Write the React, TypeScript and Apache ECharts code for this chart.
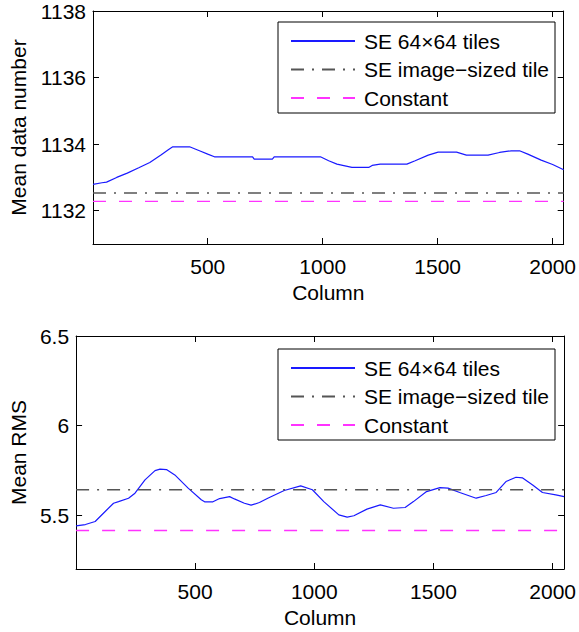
import React, { useEffect, useRef } from "react";
import * as echarts from "echarts";

// ---- Data ----
const seriesNames = ["SE 64×64 tiles", "SE image−sized tile", "Constant"];

const colRange = [1, 2048];
const xTicks = [500, 1000, 1500, 2000];

// Top panel: mean data number
const topYTicks = [1132, 1134, 1136, 1138];
const topYRange = [1131, 1138];
const topTiles: [number, number][] = [
  [1, 1132.79], [40, 1132.84], [60, 1132.86], [104, 1133.0], [150, 1133.13],
  [200, 1133.29], [248, 1133.45], [298, 1133.68], [330, 1133.84], [348, 1133.92],
  [421, 1133.92], [464, 1133.8], [500, 1133.7], [529, 1133.62], [695, 1133.62],
  [702, 1133.55], [781, 1133.55], [789, 1133.62], [990, 1133.62], [1026, 1133.5],
  [1062, 1133.4], [1127, 1133.3], [1200, 1133.3], [1215, 1133.36], [1250, 1133.4],
  [1366, 1133.4], [1402, 1133.5], [1459, 1133.67], [1502, 1133.76], [1582, 1133.76],
  [1625, 1133.67], [1719, 1133.67], [1769, 1133.75], [1820, 1133.8], [1856, 1133.8],
  [1892, 1133.7], [1950, 1133.52], [2000, 1133.39], [2048, 1133.23],
];
const topImageTile = 1132.53;
const topConstant = 1132.28;

// Bottom panel: mean RMS
const botYTicks = [5.5, 6, 6.5];
const botYRange = [5.2, 6.5];
const botTiles: [number, number][] = [
  [1, 5.441], [40, 5.448], [81, 5.465], [123, 5.521], [158, 5.567], [179, 5.576],
  [221, 5.595], [248, 5.623], [290, 5.697], [332, 5.749], [353, 5.757], [380, 5.755],
  [415, 5.725], [471, 5.651], [526, 5.586], [540, 5.575], [575, 5.575], [603, 5.593],
  [645, 5.604], [665, 5.591], [707, 5.567], [735, 5.556], [770, 5.571], [805, 5.595],
  [874, 5.638], [943, 5.664], [992, 5.642], [1040, 5.576], [1103, 5.502], [1138, 5.489],
  [1166, 5.497], [1221, 5.534], [1277, 5.558], [1332, 5.539], [1381, 5.543], [1416, 5.576],
  [1471, 5.632], [1527, 5.654], [1561, 5.651], [1610, 5.627], [1679, 5.595], [1721, 5.61],
  [1763, 5.627], [1804, 5.688], [1846, 5.712], [1874, 5.708], [1916, 5.669], [1957, 5.627],
  [2013, 5.614], [2048, 5.604],
];
const botImageTile = 5.642;
const botConstant = 5.415;

const FONT = "'Liberation Sans', Arial, Helvetica, sans-serif";
const FS = 21;

const styles = {
  tiles: { color: "#1a1aff", width: 1.2, type: "solid" as any },
  image: { color: "#555555", width: 1.4, type: [13, 8, 2, 8] as any },
  constant: { color: "#ff33ff", width: 1.4, type: [13, 13] as any },
};

function flat(v: number): [number, number][] {
  return [
    [colRange[0], v],
    [colRange[1], v],
  ];
}

const plain = (v: number) => String(v);

export default function App() {
  const ref = useRef<HTMLDivElement>(null);
  useEffect(() => {
    if (!ref.current) return;
    const chart = echarts.init(ref.current, null, { renderer: "svg" });

    const axisLine = { show: true, onZero: false, lineStyle: { color: "#000", width: 1 } };
    const tick = (vals: number[]) => ({
      show: true,
      inside: true,
      length: 6,
      customValues: vals,
      lineStyle: { color: "#000", width: 1 },
    });

    const mkX = (grid: number, pos: "bottom" | "top") => ({
      type: "value",
      gridIndex: grid,
      position: pos,
      min: colRange[0],
      max: colRange[1],
      axisLine,
      axisTick: tick(xTicks),
      splitLine: { show: false },
      axisLabel:
        pos === "bottom"
          ? { show: true, customValues: xTicks, formatter: plain, margin: 12, color: "#000", fontSize: FS, fontFamily: FONT }
          : { show: false },
      name: pos === "bottom" ? "Column" : "",
      nameLocation: "middle",
      nameGap: 38,
      nameTextStyle: { color: "#000", fontSize: FS, fontFamily: FONT },
    });

    const mkY = (grid: number, pos: "left" | "right", range: number[], ticks: number[], name: string, gap: number) => ({
      type: "value",
      gridIndex: grid,
      position: pos,
      min: range[0],
      max: range[1],
      axisLine,
      axisTick: tick(ticks),
      splitLine: { show: false },
      axisLabel:
        pos === "left"
          ? { show: true, customValues: ticks, formatter: plain, margin: 7, color: "#000", fontSize: FS, fontFamily: FONT }
          : { show: false },
      name: pos === "left" ? name : "",
      nameLocation: "middle",
      nameGap: gap,
      nameTextStyle: { color: "#000", fontSize: FS, fontFamily: FONT },
    });

    const legendBase = {
      orient: "vertical",
      left: 278,
      data: seriesNames,
      itemWidth: 64,
      itemHeight: 14,
      itemGap: 7.5,
      padding: [8.5, 6, 4.5, 12],
      borderColor: "#000",
      borderWidth: 1,
      backgroundColor: "#fff",
      selectedMode: false,
      itemStyle: { color: "rgba(0,0,0,0)", borderColor: "rgba(0,0,0,0)", borderWidth: 0, opacity: 0 },
      textStyle: { color: "#000", fontSize: FS, fontFamily: FONT, padding: [0, 0, 0, 4] },
    };

    const line = (name: string, data: [number, number][], st: any, xi: number, yi: number, z: number) => ({
      type: "line",
      name,
      data,
      xAxisIndex: xi,
      yAxisIndex: yi,
      symbol: "none",
      showSymbol: false,
      silent: true,
      z,
      lineStyle: st,
      itemStyle: { color: st.color },
    });

    chart.setOption({
      animation: false,
      backgroundColor: "#fff",
      textStyle: { fontFamily: FONT },
      grid: [
        { left: 93, top: 11, width: 473, height: 233 },
        { left: 74, top: 336, width: 492, height: 233 },
      ],
      xAxis: [mkX(0, "bottom"), mkX(0, "top"), mkX(1, "bottom"), mkX(1, "top")],
      yAxis: [
        mkY(0, "left", topYRange, topYTicks, "Mean data number", 64),
        mkY(0, "right", topYRange, topYTicks, "", 0),
        mkY(1, "left", botYRange, botYTicks, "Mean RMS", 45),
        mkY(1, "right", botYRange, botYTicks, "", 0),
      ],
      legend: [
        { ...legendBase, top: 22 },
        { ...legendBase, top: 349 },
      ],
      series: [
        line(seriesNames[0], topTiles, styles.tiles, 0, 0, 3),
        line(seriesNames[1], flat(topImageTile), styles.image, 0, 0, 4),
        line(seriesNames[2], flat(topConstant), styles.constant, 0, 0, 5),
        line(seriesNames[0], botTiles, styles.tiles, 2, 2, 3),
        line(seriesNames[1], flat(botImageTile), styles.image, 2, 2, 4),
        line(seriesNames[2], flat(botConstant), styles.constant, 2, 2, 5),
      ],
    });
    return () => chart.dispose();
  }, []);

  return (
    <div
      ref={ref}
      style={{ position: "fixed", left: 0, top: 0, width: 579, height: 632, background: "#fff" }}
    />
  );
}
